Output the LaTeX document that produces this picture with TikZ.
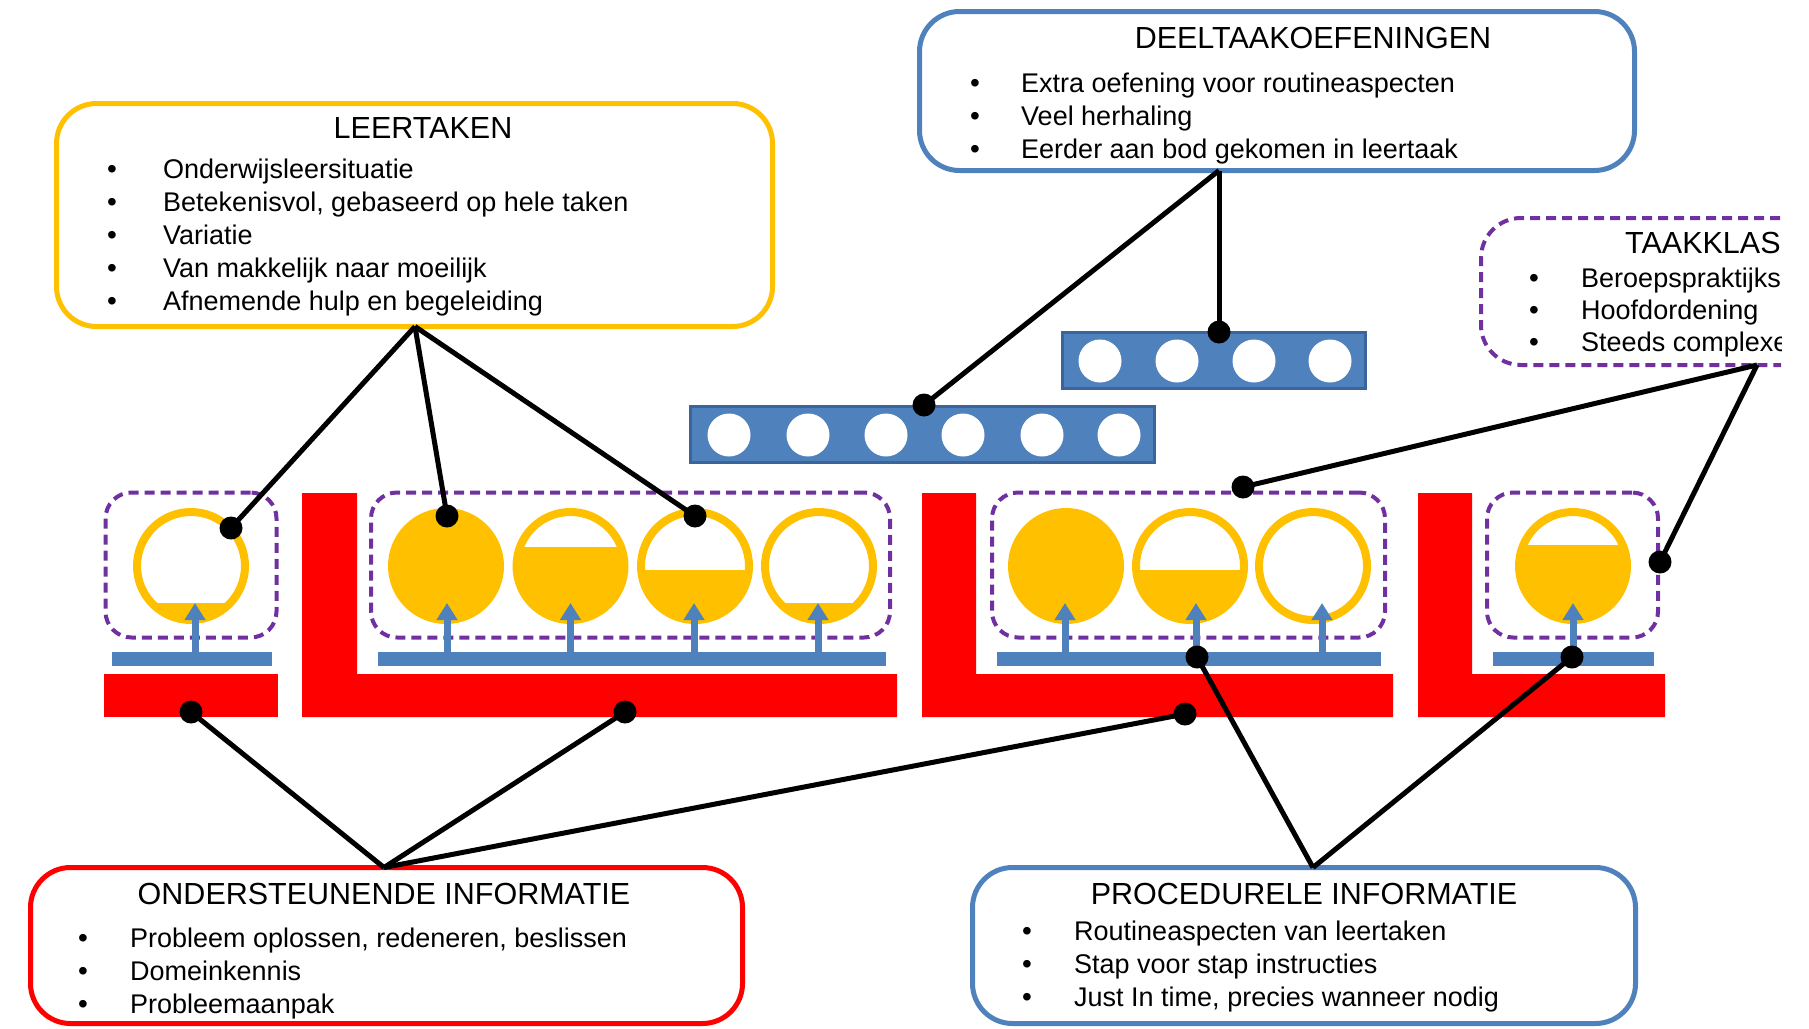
\documentclass[tikz,border=0pt]{standalone}
\usepackage{fontspec}
\setmainfont{Liberation Sans}
\usetikzlibrary{arrows.meta}
\definecolor{yel}{HTML}{FFC000}
\definecolor{rd}{HTML}{FF0000}
\definecolor{bl}{HTML}{4F81BD}
\definecolor{bldark}{HTML}{3A649A}
\definecolor{pur}{HTML}{7030A0}
\newcommand\myflask[3]{%
  \begin{scope}\clip (#2,566) circle (54pt); \fill[yel] ({#2-60},#3) rectangle ({#2+60},630);\end{scope}
  \node[flask] (#1) at (#2,566) {};}
\begin{document}
\begin{tikzpicture}[x=1pt,y=-1pt,
  box/.style={draw, line width=5pt, rounded corners=40pt, inner sep=0pt, outer sep=0pt},
  grp/.style={draw=pur, line width=4pt, dash pattern=on 10pt off 6pt, rounded corners=26pt, inner sep=0pt, outer sep=0pt},
  ttl/.style={font=\fontsize{30.5}{36}\selectfont, anchor=base, inner sep=0pt},
  itm/.style={font=\fontsize{27}{33}\selectfont, anchor=base west, inner sep=0pt},
  bul/.style={font=\fontsize{28}{33}\selectfont, anchor=base, inner sep=0pt},
  con/.style={line width=5pt, black},
  dot/.style={circle, fill=black, minimum size=23pt, inner sep=0pt},
  hole/.style={circle, fill=white, minimum size=43pt, inner sep=0pt},
  flask/.style={circle, draw=yel, line width=8pt, minimum size=108pt, inner sep=0pt, outer sep=0pt},
  arr/.style={bl, line width=7pt, -{Triangle[width=20pt,length=17pt]}},
  bar/.style={draw=bldark, fill=bl, line width=3pt, inner sep=0pt, outer sep=0pt, minimum height=56pt},
]
\useasboundingbox (0,0) rectangle (1809,1028);
\clip (0,0) rectangle (1781,1028);

% ---------- text boxes ----------
\node[box, draw=yel, minimum width=716pt, minimum height=223pt] (lt) at (414.5,215) {};
\node[ttl] (lt-t) at (423,138) {LEERTAKEN};
\node[bul] (lt-b1) at (112,178) {•}; \node[itm] (lt-i1) at (163,178) {Onderwijsleersituatie};
\node[bul] (lt-b2) at (112,211) {•}; \node[itm] (lt-i2) at (163,211) {Betekenisvol, gebaseerd op hele taken};
\node[bul] (lt-b3) at (112,244) {•}; \node[itm] (lt-i3) at (163,244) {Variatie};
\node[bul] (lt-b4) at (112,277) {•}; \node[itm] (lt-i4) at (163,277) {Van makkelijk naar moeilijk};
\node[bul] (lt-b5) at (112,310) {•}; \node[itm] (lt-i5) at (163,310) {Afnemende hulp en begeleiding};

\node[box, draw=bl, minimum width=715pt, minimum height=159pt] (dt) at (1277,91) {};
\node[ttl] (dt-t) at (1313,48) {DEELTAAKOEFENINGEN};
\node[bul] (dt-b1) at (975,92) {•}; \node[itm] (dt-i1) at (1021,92) {Extra oefening voor routineaspecten};
\node[bul] (dt-b2) at (975,125) {•}; \node[itm] (dt-i2) at (1021,125) {Veel herhaling};
\node[bul] (dt-b3) at (975,158) {•}; \node[itm] (dt-i3) at (1021,158) {Eerder aan bod gekomen in leertaak};

\node[grp, rounded corners=40pt, minimum width=419pt, minimum height=147pt] (tk) at (1690.5,291.5) {};
\node[ttl, anchor=base west] (tk-t) at (1625,253) {TAAKKLASSEN};
\node[bul] (tk-b1) at (1534,287) {•}; \node[itm] (tk-i1) at (1581,287) {Beroepspraktijksituaties};
\node[bul] (tk-b2) at (1534,319) {•}; \node[itm] (tk-i2) at (1581,319) {Hoofdordening};
\node[bul] (tk-b3) at (1534,351) {•}; \node[itm] (tk-i3) at (1581,351) {Steeds complexer};

\node[box, draw=rd, minimum width=712pt, minimum height=156pt] (oi) at (386.5,945.5) {};
\node[ttl] (oi-t) at (384,904) {ONDERSTEUNENDE INFORMATIE};
\node[bul] (oi-b1) at (83,947) {•}; \node[itm] (oi-i1) at (130,947) {Probleem oplossen, redeneren, beslissen};
\node[bul] (oi-b2) at (83,980) {•}; \node[itm] (oi-i2) at (130,980) {Domeinkennis};
\node[bul] (oi-b3) at (83,1013) {•}; \node[itm] (oi-i3) at (130,1013) {Probleemaanpak};

\node[box, draw=bl, minimum width=663pt, minimum height=156pt] (pi) at (1304,945.5) {};
\node[ttl] (pi-t) at (1304,904) {PROCEDURELE INFORMATIE};
\node[bul] (pi-b1) at (1027,940) {•}; \node[itm] (pi-i1) at (1074,940) {Routineaspecten van leertaken};
\node[bul] (pi-b2) at (1027,973) {•}; \node[itm] (pi-i2) at (1074,973) {Stap voor stap instructies};
\node[bul] (pi-b3) at (1027,1006) {•}; \node[itm] (pi-i3) at (1074,1006) {Just In time, precies wanneer nodig};

% ---------- part-task practice bars ----------
\node[bar, minimum width=464pt] (bar1) at (922.5,434.5) {};
\foreach \x [count=\i] in {729,808,886,963,1042,1119} \node[hole] (h1-\i) at (\x,435) {};
\node[bar, minimum width=303pt] (bar2) at (1214,360.5) {};
\foreach \x [count=\i] in {1100,1177,1254,1330} \node[hole] (h2-\i) at (\x,361) {};

% ---------- supportive information (red) ----------
\fill[rd] (104,674) rectangle (278,717);
\fill[rd] (302,493) -- (357,493) -- (357,674) -- (897,674) -- (897,717) -- (302,717) -- cycle;
\fill[rd] (922,493) -- (976,493) -- (976,674) -- (1393,674) -- (1393,717) -- (922,717) -- cycle;
\fill[rd] (1418,493) -- (1472,493) -- (1472,674) -- (1665,674) -- (1665,717) -- (1418,717) -- cycle;

% ---------- procedural information (blue bars) ----------
\fill[bl] (112,652) rectangle (272,666);
\fill[bl] (378,652) rectangle (886,666);
\fill[bl] (997,652) rectangle (1381,666);
\fill[bl] (1493,652) rectangle (1654,666);

% ---------- task classes (dashed) ----------
\node[grp, minimum width=171pt, minimum height=145pt] (g1) at (191,565) {};
\node[grp, minimum width=519pt, minimum height=145pt] (g2) at (630.5,565) {};
\node[grp, minimum width=393pt, minimum height=145pt] (g3) at (1188.5,565) {};
\node[grp, minimum width=171pt, minimum height=145pt] (g4) at (1572.5,565) {};

% ---------- learning tasks ----------
\myflask{f1}{191}{603}
\myflask{f2}{446}{500}
\myflask{f3}{570.5}{547}
\myflask{f4}{695}{570}
\myflask{f5}{819}{603}
\myflask{f6}{1066}{500}
\myflask{f7}{1190}{570}
\myflask{f8}{1313}{700}
\myflask{f9}{1573}{545}

\draw[arr] (195,653) -- (195,603);
\draw[arr] (447,653) -- (447,603);
\draw[arr] (570.5,653) -- (570.5,603);
\draw[arr] (694,653) -- (694,603);
\draw[arr] (818,653) -- (818,603);
\draw[arr] (1065,653) -- (1065,603);
\draw[arr] (1196,653) -- (1196,603);
\draw[arr] (1322,653) -- (1322,603);
\draw[arr] (1573,653) -- (1573,603);

% ---------- connectors ----------
\coordinate (dt-c) at (1219,170.5);
\coordinate (tk-c) at (1757,365);
\coordinate (oi-c) at (384,867.5);
\coordinate (pi-c) at (1313,867.5);
\coordinate (lt-c) at (415,326.5);

\coordinate (d1) at (231,528);
\coordinate (d2) at (447,516);
\coordinate (d3) at (695,516);
\coordinate (d4) at (924,405);
\coordinate (d5) at (1219,332);
\coordinate (d6) at (1243,487);
\coordinate (d7) at (1660,562);
\coordinate (d8) at (191,712);
\coordinate (d9) at (625,712);
\coordinate (d10) at (1185,714);
\coordinate (d11) at (1197,657);
\coordinate (d12) at (1572,657);

\draw[con] (lt-c) -- (d1);
\draw[con] (lt-c) -- (d2);
\draw[con] (lt-c) -- (d3);
\draw[con] (dt-c) -- (d4);
\draw[con] (dt-c) -- (d5);
\draw[con] (tk-c) -- (d6);
\draw[con] (tk-c) -- (d7);
\draw[con] (oi-c) -- (d8);
\draw[con] (oi-c) -- (d9);
\draw[con] (oi-c) -- (d10);
\draw[con] (pi-c) -- (d11);
\draw[con] (pi-c) -- (d12);

\foreach \d in {d1,d2,d3,d4,d5,d6,d7,d8,d9,d10,d11,d12} \node[dot] (n-\d) at (\d) {};
\end{tikzpicture}
\end{document}
